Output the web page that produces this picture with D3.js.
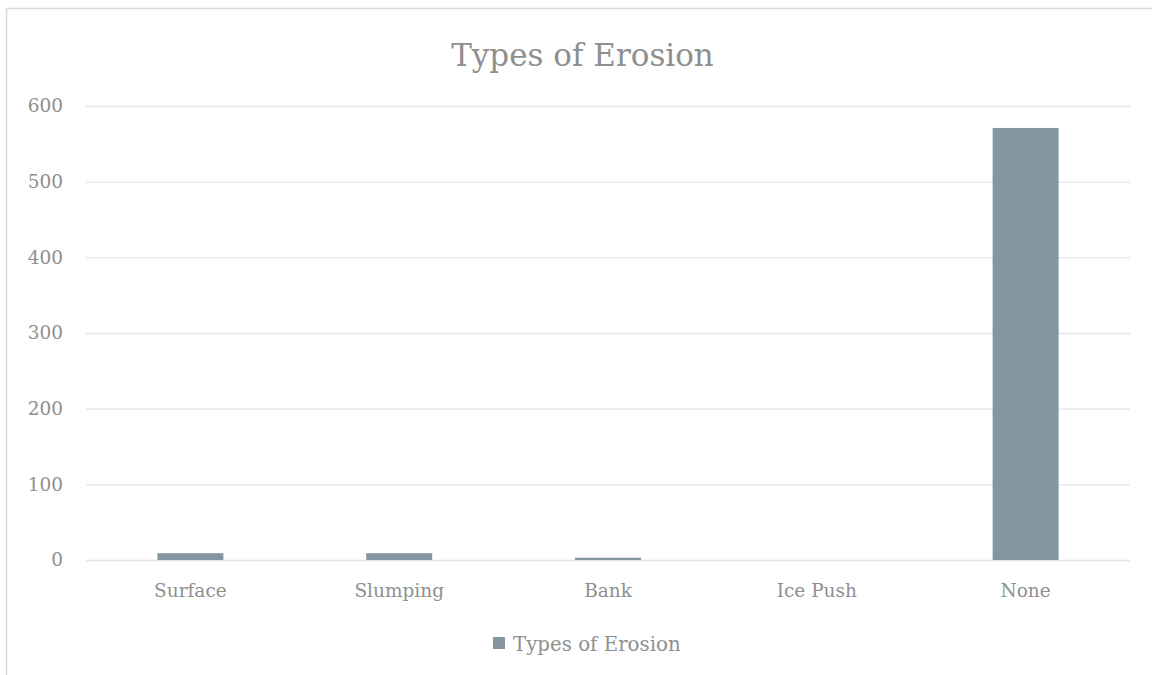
<!DOCTYPE html>
<html>
<head>
<meta charset="utf-8">
<script src="https://cdn.jsdelivr.net/npm/d3@7"></script>
<style>
  html, body { margin: 0; padding: 0; background: #fff; }
  svg { display: block; }
  text { font-family: "DejaVu Serif", "Liberation Serif", serif; fill: #8f8f8f; }
</style>
</head>
<body>
<div id="chart"></div>
<script>
// Counts of shoreline sites by erosion type
const categories = ["Surface", "Slumping", "Bank", "Ice Push", "None"];
const counts = [9, 9, 3, 0, 571];
const yTicks = [0, 100, 200, 300, 400, 500, 600];
const seriesName = "Types of Erosion";
const chartTitle = "Types of Erosion";

const W = 1152, H = 675;
const plot = { left: 86, right: 1130, top: 106, bottom: 560 };
const barColor = "#8496a0";
const gridColor = "#e4e4e4";

const svg = d3.select("#chart").append("svg")
  .attr("width", W).attr("height", H);

// chart frame
svg.append("rect")
  .attr("x", 6.5).attr("y", 8.5)
  .attr("width", 1160).attr("height", 700)
  .attr("fill", "#fff")
  .attr("stroke", "#d9d9d9").attr("stroke-width", 1.5);

const x = d3.scaleBand()
  .domain(categories)
  .range([plot.left, plot.right])
  .paddingInner(0.684)
  .paddingOuter(0.342);

const y = d3.scaleLinear()
  .domain([0, 600])
  .range([plot.bottom, plot.top]);

// horizontal gridlines
const yAxis = d3.axisLeft(y)
  .tickValues(yTicks)
  .tickSize(-(plot.right - plot.left))
  .tickPadding(23)
  .tickFormat(d3.format("d"));

const gy = svg.append("g")
  .attr("transform", `translate(${plot.left},0)`)
  .call(yAxis);
gy.select(".domain").remove();
gy.selectAll(".tick line").attr("stroke", gridColor).attr("stroke-width", 1.3);
gy.selectAll(".tick text")
  .attr("fill", "#8f8f8f")
  .style("font-size", "18.5px")
  .style("font-family", "DejaVu Serif, serif");

// bars
svg.append("g").selectAll("rect")
  .data(categories.map((c, i) => ({ c, v: counts[i] })))
  .join("rect")
  .attr("x", d => x(d.c))
  .attr("width", x.bandwidth())
  .attr("y", d => y(d.v))
  .attr("height", d => y(0) - y(d.v))
  .attr("fill", barColor);

// category axis
const xAxis = d3.axisBottom(x).tickSize(0).tickPadding(24);
const gx = svg.append("g")
  .attr("transform", `translate(0,${plot.bottom})`)
  .call(xAxis);
gx.select(".domain").remove();
gx.selectAll(".tick text")
  .attr("fill", "#8f8f8f")
  .style("font-size", "18.5px")
  .style("font-family", "DejaVu Serif, serif");

// title
svg.append("text")
  .attr("x", 582.5).attr("y", 66)
  .attr("text-anchor", "middle")
  .style("font-size", "31px")
  .text(chartTitle);

// legend
const legend = svg.append("g");
legend.append("text")
  .attr("x", 513).attr("y", 651)
  .style("font-size", "19.8px")
  .text(seriesName);
legend.append("rect")
  .attr("x", 493).attr("y", 637)
  .attr("width", 12).attr("height", 12)
  .attr("fill", barColor);
</script>
</body>
</html>
